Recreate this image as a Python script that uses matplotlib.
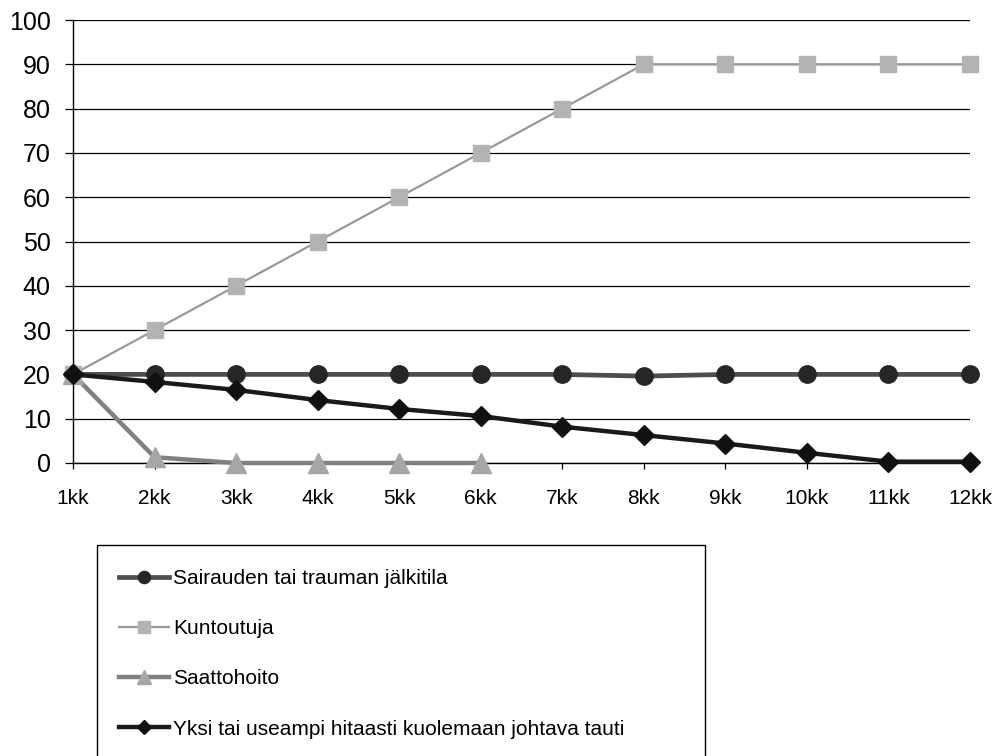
import matplotlib
matplotlib.use("Agg")
import matplotlib.pyplot as plt
from matplotlib.patches import Rectangle

plt.rcParams['font.family'] = ['Liberation Sans', 'DejaVu Sans']

months = ['1kk', '2kk', '3kk', '4kk', '5kk', '6kk', '7kk', '8kk', '9kk', '10kk', '11kk', '12kk']

jalkitila = [20, 20, 20, 20, 20, 20, 20, 19.6, 20, 20, 20, 20]
kuntoutuja = [20, 30, 40, 50, 60, 70, 80, 90, 90, 90, 90, 90]
saattohoito = [20, 1.3, 0, 0, 0, 0]
hidas_tauti = [20, 18.3, 16.5, 14.2, 12.2, 10.6, 8.2, 6.3, 4.4, 2.3, 0.3, 0.3]

labels = ['Sairauden tai trauman jälkitila',
          'Kuntoutuja',
          'Saattohoito',
          'Yksi tai useampi hitaasti kuolemaan johtava tauti']

fig = plt.figure(figsize=(9.96, 7.56), dpi=100)
ax = fig.add_axes([73/996, 1 - 463/756, (970 - 73)/996, (463 - 20)/756])

x = range(len(months))

l1, = ax.plot(x, jalkitila, color='#4d4d4d', lw=3.4, marker='o', ms=12.5,
              mfc='#262626', mec='#262626', zorder=3, clip_on=False)
l2, = ax.plot(x, kuntoutuja, color='#999999', lw=1.6, marker='s', ms=12,
              mfc='#b3b3b3', mec='#b3b3b3', zorder=3, clip_on=False)
l3, = ax.plot(range(len(saattohoito)), saattohoito, color='#808080', lw=3.2,
              marker='^', ms=14, mfc='#a6a6a6', mec='#a6a6a6', zorder=3,
              clip_on=False)
l4, = ax.plot(x, hidas_tauti, color='#1a1a1a', lw=3.2, marker='D', ms=10.5,
              mfc='#111111', mec='#111111', zorder=4, clip_on=False)

ax.set_xlim(0, 11)
ax.set_ylim(0, 100)
ax.set_yticks(range(0, 101, 10))
ax.set_xticks(list(x))
ax.set_xticklabels(months)
ax.yaxis.grid(True, color='black', lw=0.9)
ax.set_axisbelow(True)

for side in ['top', 'right']:
    ax.spines[side].set_visible(False)
for side in ['left', 'bottom']:
    ax.spines[side].set_linewidth(1.0)
    ax.spines[side].set_color('black')

ax.tick_params(axis='y', direction='out', length=6, width=0.9, labelsize=18, pad=10)
ax.tick_params(axis='x', direction='out', length=4, width=0.9, labelsize=15, pad=15)

# legend box runs off the bottom edge of the figure
fig.patches.append(Rectangle((97/996, -0.05), (705 - 97)/996, (1 - 545/756) + 0.05,
                             transform=fig.transFigure, fill=False,
                             edgecolor='black', lw=1.0))

fig.legend([l1, l2, l3, l4], labels, loc='upper left',
           bbox_to_anchor=(119/996, 1 - 569/756), frameon=False,
           fontsize=15, markerscale=0.7, handlelength=2.4, handletextpad=0.2,
           labelspacing=1.5, borderpad=0, borderaxespad=0)

fig.savefig('out.png', dpi=100)
